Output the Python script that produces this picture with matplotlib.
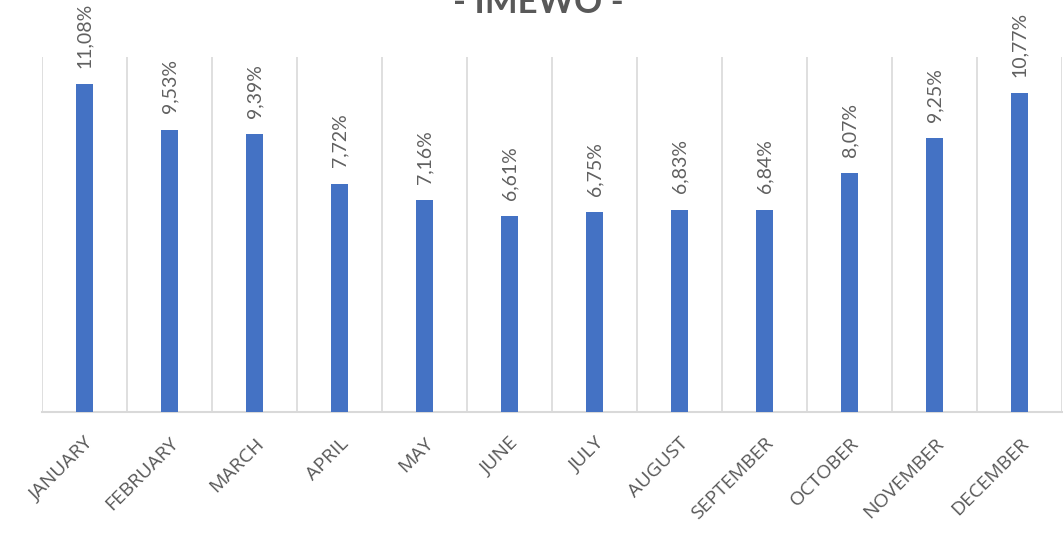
import matplotlib
matplotlib.use("Agg")
import matplotlib.pyplot as plt
import numpy as np

months = ["JANUARY", "FEBRUARY", "MARCH", "APRIL", "MAY", "JUNE", "JULY",
          "AUGUST", "SEPTEMBER", "OCTOBER", "NOVEMBER", "DECEMBER"]
values = [11.08, 9.53, 9.39, 7.72, 7.16, 6.61, 6.75, 6.83, 6.84, 8.07, 9.25, 10.77]
labels = ["11,08%", "9,53%", "9,39%", "7,72%", "7,16%", "6,61%", "6,75%",
          "6,83%", "6,84%", "8,07%", "9,25%", "10,77%"]
title = "- IMEWO -"

plt.rcParams['font.family'] = ['Lato', 'DejaVu Sans']
fig = plt.figure(figsize=(10.63, 5.40), dpi=100)
ax = fig.add_axes([42/1063, 1-412/540, 1020/1063, (412-57)/540])

x = np.arange(len(months))
bars = ax.bar(x, values, width=0.19, color="#4472C4", zorder=3)
ax.set_xlim(-0.5, len(months)-0.5)
ax.set_ylim(0, 12)
for b in np.arange(-0.5, len(months), 1.0):
    ax.axvline(b, color="#d9d9d9", lw=1.2, zorder=1)
for xi, v, lab in zip(x, values, labels):
    ax.annotate(lab, (xi, v), xytext=(0, 12), textcoords="offset points",
                rotation=90, ha="center", va="bottom", fontsize=14, color="#606060")
ax.set_yticks([])
ax.set_xticks(x)
ax.set_xticklabels(months, rotation=45, ha="right", rotation_mode="anchor",
                   fontsize=14, color="#595959", family=["Open Sans", "DejaVu Sans"])
ax.tick_params(axis="x", length=0, pad=16)
for s in ["top", "right", "left"]:
    ax.spines[s].set_visible(False)
ax.spines["bottom"].set_color("#d9d9d9")
ax.spines["bottom"].set_linewidth(1.5)
fig.text(538/1063, 1-13/540, title, ha="center", va="baseline", fontsize=25,
         fontweight="bold", color="#595959")
fig.savefig("out.png", dpi=100)
